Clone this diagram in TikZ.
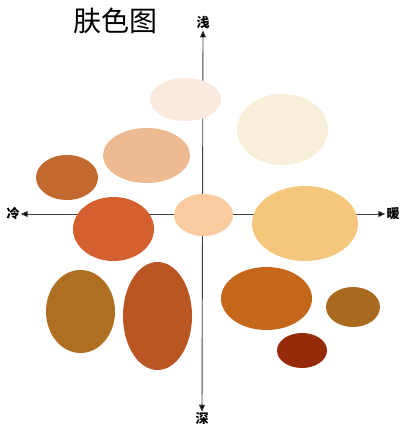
\documentclass[tikz,border=0pt]{standalone}
\usepackage{fontspec}
\newfontfamily\cjk{Noto Sans CJK SC}
\usetikzlibrary{shapes.geometric,arrows.meta}
\definecolor{cA}{HTML}{FBE9DE}
\definecolor{cB}{HTML}{F7EFD9}
\definecolor{cC}{HTML}{EDBA92}
\definecolor{cD}{HTML}{C1692F}
\definecolor{cE}{HTML}{D5602F}
\definecolor{cF}{HTML}{F9CB9E}
\definecolor{cG}{HTML}{F5C77C}
\definecolor{cH}{HTML}{AE6F22}
\definecolor{cI}{HTML}{BA5624}
\definecolor{cJ}{HTML}{C5671A}
\definecolor{cK}{HTML}{A9691F}
\definecolor{cL}{HTML}{952B08}
\definecolor{axisgray}{HTML}{404040}
\tikzset{
  blob/.style={ellipse, inner sep=0pt, draw=none},
  axlabel/.style={font=\cjk\bfseries\fontsize{13pt}{13pt}\selectfont, inner sep=1pt},
  axisline/.style={draw=axisgray, line width=0.9pt, {Triangle[length=7pt,width=6pt,fill=black]}-{Triangle[length=7pt,width=6pt,fill=black]}},
}
\begin{document}
\begin{tikzpicture}[x=1pt,y=-1pt]
\useasboundingbox[fill=white] (0,0) rectangle (405,435);
% title
\node[font=\cjk\fontsize{28pt}{28pt}\selectfont, inner sep=0pt] (title) at (115,21) {肤色图};
% axis labels
\node[axlabel] (light) at (203,23) {浅};
\node[axlabel] (dark) at (202,419) {深};
\node[axlabel] (cold) at (13,214) {冷};
\node[axlabel] (warm) at (393,214) {暖};
% axes
\draw[axisline] (cold.east) -- (warm.west);
\draw[axisline] (light.south) -- (dark.north);
% ellipses
\node[blob, fill=cA, minimum width=71pt, minimum height=43pt] (e1) at (185.5,99.5) {};
\node[blob, fill=cB, minimum width=91pt, minimum height=71pt] (e2) at (282.5,129.5) {};
\node[blob, fill=cC, minimum width=87pt, minimum height=55pt] (e3) at (146.5,155.5) {};
\node[blob, fill=cD, minimum width=62pt, minimum height=45pt] (e4) at (67,177.5) {};
\node[blob, fill=cE, minimum width=81pt, minimum height=64pt] (e5) at (113.5,229) {};
\node[blob, fill=cF, minimum width=59pt, minimum height=42pt] (e6) at (203.5,215) {};
\node[blob, fill=cG, minimum width=106pt, minimum height=75pt] (e7) at (305,223.5) {};
\node[blob, fill=cH, minimum width=69pt, minimum height=83pt] (e8) at (80.5,311.5) {};
\node[blob, fill=cI, minimum width=69pt, minimum height=108pt] (e9) at (157.5,316) {};
\node[blob, fill=cJ, minimum width=91pt, minimum height=63pt] (e10) at (266.5,298.5) {};
\node[blob, fill=cK, minimum width=54pt, minimum height=40pt] (e11) at (353,307) {};
\node[blob, fill=cL, minimum width=50pt, minimum height=35pt] (e12) at (302,350.5) {};
\end{tikzpicture}
\end{document}
